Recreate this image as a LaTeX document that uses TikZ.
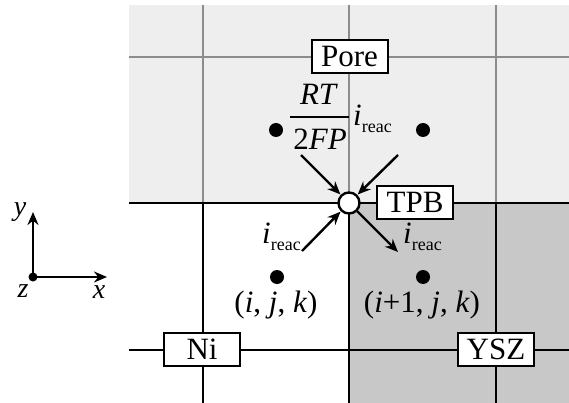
\documentclass[tikz,border=0pt]{standalone}
\usepackage{fontspec}
\setmainfont{Liberation Serif}
\usetikzlibrary{arrows.meta}
\newcommand{\myireac}{\textit{i}\raisebox{-7pt}{\fontsize{18}{18}\selectfont reac}}
\definecolor{poregray}{HTML}{EEEEEE}
\definecolor{yszgray}{HTML}{C8C8C8}
\definecolor{gridgray}{HTML}{8C8C8C}
\begin{document}
\begin{tikzpicture}[x=1pt,y=-1pt,
  lab/.style={draw=black,line width=2pt,fill=white,minimum width=76pt,minimum height=33pt,inner sep=0pt,font=\fontsize{31}{32}\selectfont},
  txt/.style={inner sep=0pt,font=\fontsize{31}{32}\selectfont},
  axlab/.style={inner sep=0pt,font=\fontsize{28}{29}\selectfont},
  gline/.style={draw=gridgray,line width=1.8pt},
  bline/.style={draw=black,line width=2.4pt},
  dot/.style={circle,fill=black,inner sep=0pt,minimum size=14pt},
  arr/.style={line width=2.4pt,-{Stealth[length=13pt,width=11pt]}},
]
\useasboundingbox (0,0) rectangle (569,403);
\fill[white] (0,0) rectangle (569,403);
% regions
\fill[poregray] (129,5) rectangle (569,203);
\fill[yszgray] (349,203) rectangle (569,403);
% grid lines in pore
\draw[gline] (129,57) -- (569,57);
\foreach \x in {203,349,496} \draw[gline] (\x,5) -- (\x,203);
% black grid lines
\draw[bline] (129,203) -- (569,203);
\draw[bline] (129,350) -- (569,350);
\foreach \x in {203,349,496} \draw[bline] (\x,203) -- (\x,403);
% labels
\node[lab] (pore) at (349.5,56.5) {Pore};
\node[lab] (tpblab) at (415,202.5) {TPB};
\node[lab] (ni) at (202,349.5) {Ni};
\node[lab] (ysz) at (496,349.5) {YSZ};
% dots
\node[dot] (d1) at (276,130) {};
\node[dot] (d2) at (423,130) {};
\node[dot] (d3) at (277,277) {};
\node[dot] (d4) at (423,277) {};
% fraction
\node[txt,anchor=base] (rt) at (319,105) {\textit{RT}};
\node[txt,anchor=base] (fp) at (320,150) {2\textit{FP}};
\coordinate (barl) at (290,117);
\coordinate (barr) at (349,117);
\draw[line width=1.8pt] (barl) -- (barr);
\node[txt,anchor=base west] (ir1) at (353,126) {\myireac};
\node[txt,anchor=base west] (ir2) at (262,243) {\myireac};
\node[txt,anchor=base west] (ir3) at (403,243) {\myireac};
% cell labels
\node[txt,anchor=base] (c1) at (276,312) {(\textit{i}, \textit{j}, \textit{k})};
\node[txt,anchor=base] (c2) at (422,312) {(\textit{i}+1, \textit{j}, \textit{k})};
% TPB circle
\node[circle,draw=black,line width=2.4pt,fill=white,minimum size=21pt,inner sep=0pt] (tpb) at (349,203) {};
% arrows
\coordinate (a1) at (301,155);
\coordinate (a2) at (398,155);
\coordinate (a3) at (302,251);
\coordinate (a4) at (398,252);
\draw[arr,shorten >=0.5pt] (a1) -- (tpb);
\draw[arr,shorten >=0.5pt] (a2) -- (tpb);
\draw[arr,shorten >=0.5pt] (a3) -- (tpb);
\draw[arr] (tpb) -- (a4);
% axes
\node[circle,fill=black,inner sep=0pt,minimum size=9pt] (o) at (33,277) {};
\coordinate (ytip) at (33,212);
\coordinate (xtip) at (107,277);
\draw[arr] (o.center) -- (ytip);
\draw[arr] (o.center) -- (xtip);
\node[axlab] (ly) at (20,212) {\textit{y}};
\node[axlab] (lz) at (23,291) {\textit{z}};
\node[axlab] (lx) at (99,292) {\textit{x}};
\end{tikzpicture}
\end{document}
